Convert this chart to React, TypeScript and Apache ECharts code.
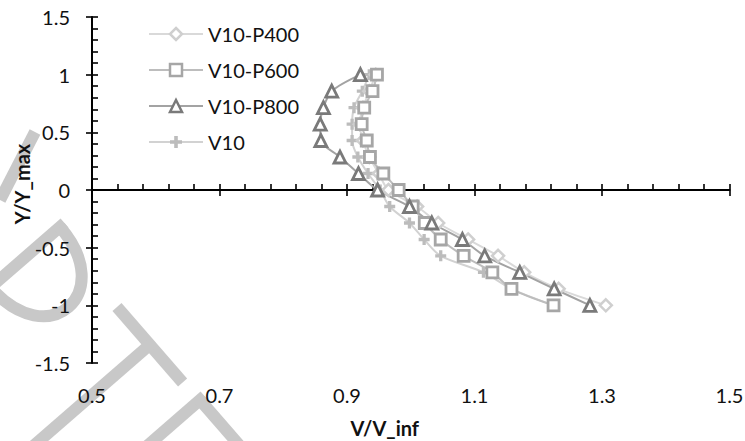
import React, { useEffect, useRef } from "react";
import * as echarts from "echarts";

// ---- data ----
const SERIES_NAMES = ["V10-P400", "V10-P600", "V10-P800", "V10"];
const Y_LEVELS = [1, 0.857, 0.714, 0.571, 0.429, 0.286, 0.143, 0, -0.143, -0.286, -0.429, -0.571, -0.714, -0.857, -1];
const X_P400 = [0.945, 0.935, 0.925, 0.92, 0.925, 0.935, 0.95, 0.965, 1.01, 1.043, 1.09, 1.137, 1.178, 1.232, 1.306];
const X_P600 = [0.947, 0.94, 0.927, 0.923, 0.931, 0.936, 0.957, 0.981, 1.003, 1.022, 1.047, 1.083, 1.128, 1.158, 1.224];
const X_P800 = [0.921, 0.876, 0.863, 0.858, 0.859, 0.889, 0.918, 0.948, 0.998, 1.033, 1.081, 1.116, 1.171, 1.225, 1.281];
const X_V10 = [0.935, 0.924, 0.911, 0.908, 0.908, 0.917, 0.933, 0.952, 0.967, 0.998, 1.021, 1.047, 1.114, 1.158, 1.224];
const X_TICK_LABELS = [0.5, 0.7, 0.9, 1.1, 1.3, 1.5];
const X_NAME = "V/V_inf";
const Y_NAME = "Y/Y_max";

const FONT = "Lato";
const TXT = "#111";

function zip(xs: number[]) {
  return xs.map((x, i) => [x, Y_LEVELS[i]]);
}

function minorTicks(major: number[], parts: number) {
  const out: number[] = [];
  for (let i = 0; i < major.length - 1; i++) {
    const step = (major[i + 1] - major[i]) / parts;
    for (let k = 1; k < parts; k++) out.push(+(major[i] + k * step).toFixed(4));
  }
  return out;
}

function watermark() {
  const th = (49 * Math.PI) / 180;
  const ux = Math.cos(th), uy = Math.sin(th);
  const dx = -Math.sin(th), dy = Math.cos(th);
  const pt = (o: number[], a: number, b: number) => [o[0] + a * ux + b * dx, o[1] + a * uy + b * dy];
  const style = { stroke: "#c8c8c8", lineWidth: 12, lineCap: "butt", fill: "none" };
  const line = (p: number[], q: number[]) => ({
    type: "line", z: -10, silent: true,
    shape: { x1: p[0], y1: p[1], x2: q[0], y2: q[1] }, style,
  });
  const bez = (p: number[], c1: number[], c2: number[], q: number[]) => ({
    type: "bezierCurve", z: -10, silent: true,
    shape: { x1: p[0], y1: p[1], cpx1: c1[0], cpy1: c1[1], cpx2: c2[0], cpy2: c2[1], x2: q[0], y2: q[1] },
    style,
  });
  const P = [60, 227];
  const T = [117, 307];
  const E = [200, 400];
  return [
    line(pt(P, 0, -6), pt(P, 0, 150)),
    bez(pt(P, 0, 0), pt(P, 88, 0), pt(P, 88, 92), pt(P, 0, 92)),
    line(pt(T, 0, 0), pt(T, 100, 0)),
    line(pt(T, 50, 0), pt(T, 50, 160)),
    line(pt(E, 0, -6), pt(E, 0, 150)),
    line(pt(E, 0, 0), pt(E, 80, 0)),
    line(pt(E, 0, 75), pt(E, 65, 75)),
    line([0, 200], [35, 132]),
  ];
}

export default function App() {
  const ref = useRef<HTMLDivElement>(null);
  useEffect(() => {
    if (!ref.current) return;
    const chart = echarts.init(ref.current, undefined, { renderer: "svg" });
    const xMinor = minorTicks(X_TICK_LABELS, 5);
    const black = { color: "#000", width: 1.6 };
    const xCommon = { type: "value", min: 0.5, max: 1.5, splitLine: { show: false }, position: "bottom" };
    const yCommon = { type: "value", min: -1.5, max: 1.5, interval: 0.5, splitLine: { show: false }, position: "left" };

    const seriesStyle: Record<string, any> = {
      "V10-P400": {
        data: X_P400, symbol: "diamond", symbolSize: 12,
        itemStyle: { color: "#fff", borderColor: "#cfcfcf", borderWidth: 2.5 },
        lineStyle: { color: "#d9d9d9", width: 2 },
      },
      "V10-P600": {
        data: X_P600, symbol: "rect", symbolSize: 11,
        itemStyle: { color: "#fff", borderColor: "#a6a6a6", borderWidth: 2.8 },
        lineStyle: { color: "#bdbdbd", width: 2 },
      },
      "V10-P800": {
        data: X_P800, symbol: "triangle", symbolSize: 12,
        itemStyle: { color: "#fff", borderColor: "#7a7a7a", borderWidth: 2.8 },
        lineStyle: { color: "#a3a3a3", width: 2 },
      },
      V10: {
        data: X_V10, symbol: "path://M3.5,0H6.5V3.5H10V6.5H6.5V10H3.5V6.5H0V3.5H3.5Z", symbolSize: 11,
        itemStyle: { color: "#bcbcbc", borderWidth: 0 },
        lineStyle: { color: "#d2d2d2", width: 2 },
      },
    };
    const drawOrder = ["V10", "V10-P400", "V10-P600", "V10-P800"];

    chart.setOption({
      animation: false,
      backgroundColor: "#fff",
      textStyle: { fontFamily: FONT },
      grid: { left: 92, top: 17, right: 15.5, bottom: 78, containLabel: false, outerBoundsMode: "none" },
      legend: {
        data: SERIES_NAMES,
        orient: "vertical",
        left: 148,
        top: 24,
        padding: 0,
        itemWidth: 54,
        itemHeight: 15,
        itemGap: 16,
        textStyle: { fontSize: 20, lineHeight: 20, color: TXT, fontFamily: FONT },
        itemStyle: { borderWidth: 2.5 },
      },
      xAxis: [
        {
          ...xCommon,
          axisLine: { show: false, onZero: false },
          axisTick: { show: false },
          axisLabel: { customValues: X_TICK_LABELS, fontSize: 20, color: TXT, margin: 22, fontFamily: FONT },
          name: X_NAME,
          nameLocation: "middle",
          nameGap: 55,
          nameMoveOverlap: false,
          nameTextStyle: { fontSize: 20, fontWeight: "bold", color: TXT, fontFamily: FONT, padding: [0, 52, 0, 0] },
        },
        {
          ...xCommon,
          axisLine: { show: true, onZero: true, onZeroAxisIndex: 0, lineStyle: { color: "#000", width: 2 } },
          axisTick: { show: true, inside: true, length: 6, customValues: X_TICK_LABELS, lineStyle: black },
          axisLabel: { show: false },
        },
        {
          ...xCommon,
          axisLine: { show: false, onZero: true, onZeroAxisIndex: 0 },
          axisTick: { show: true, inside: false, length: 6, customValues: X_TICK_LABELS, lineStyle: black },
          axisLabel: { show: false },
        },
        {
          ...xCommon,
          axisLine: { show: false, onZero: true, onZeroAxisIndex: 0 },
          axisTick: { show: true, inside: true, length: 6, customValues: xMinor, lineStyle: black },
          axisLabel: { show: false },
        },
      ],
      yAxis: [
        {
          ...yCommon,
          axisLine: { show: true, onZero: false, lineStyle: { color: "#000", width: 2 } },
          axisTick: { show: true, inside: true, length: 6, lineStyle: black },
          minorTick: { show: true, splitNumber: 5, length: 6, lineStyle: black },
          axisLabel: { fontSize: 20, color: TXT, margin: 22, fontFamily: FONT },
          name: Y_NAME,
          nameLocation: "middle",
          nameGap: 60,
          nameMoveOverlap: false,
          nameTextStyle: { fontSize: 20, fontWeight: "bold", color: TXT, fontFamily: FONT, padding: [0, 0, 0, 12] },
        },
        {
          ...yCommon,
          axisLine: { show: false, onZero: false },
          axisTick: { show: true, inside: false, length: 6, lineStyle: black },
          axisLabel: { show: false },
        },
      ],
      graphic: { elements: watermark() },
      series: drawOrder.map((name) => {
        const s = seriesStyle[name];
        return {
          name,
          type: "line",
          xAxisIndex: 0,
          yAxisIndex: 0,
          data: zip(s.data),
          smooth: 0.3,
          symbol: s.symbol,
          symbolSize: s.symbolSize,
          showAllSymbol: true,
          itemStyle: s.itemStyle,
          lineStyle: s.lineStyle,
          emphasis: { disabled: true },
        };
      }),
    });
    return () => chart.dispose();
  }, []);
  return <div ref={ref} style={{ position: "fixed", left: 0, top: 0, width: 745, height: 441 }} />;
}
